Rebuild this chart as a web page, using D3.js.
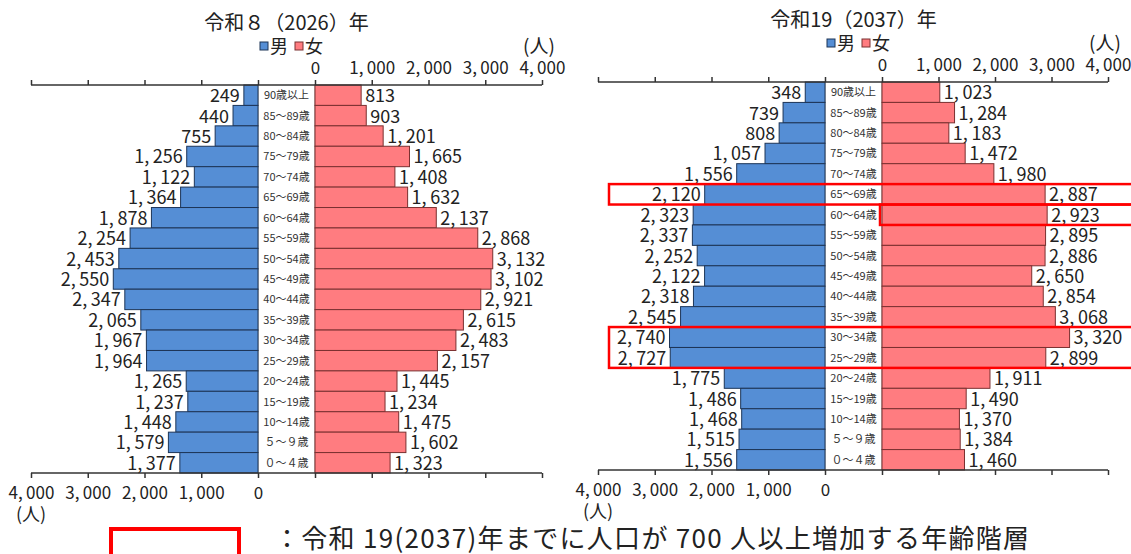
<!DOCTYPE html>
<html>
<head>
<meta charset="utf-8">
<script src="https://cdn.jsdelivr.net/npm/d3@7"></script>
<style>
  body { margin: 0; background: #fff; }
  text { font-family: "Noto Sans CJK JP", "Noto Sans", sans-serif; fill: #222; }
</style>
</head>
<body>
<script>
// Age groups, top to bottom
var ages = ["90歳以上", "85～89歳", "80～84歳", "75～79歳", "70～74歳", "65～69歳",
    "60～64歳", "55～59歳", "50～54歳", "45～49歳", "40～44歳", "35～39歳",
    "30～34歳", "25～29歳", "20～24歳", "15～19歳", "10～14歳", "５～９歳", "０～４歳"];

// 令和8 (2026)
var male2026 = [249, 440, 755, 1256, 1122, 1364, 1878, 2254, 2453, 2550, 2347, 2065, 1967, 1964, 1265, 1237, 1448, 1579, 1377];
var female2026 = [813, 903, 1201, 1665, 1408, 1632, 2137, 2868, 3132, 3102, 2921, 2615, 2483, 2157, 1445, 1234, 1475, 1602, 1323];

// 令和19 (2037)
var male2037 = [348, 739, 808, 1057, 1556, 2120, 2323, 2337, 2252, 2122, 2318, 2545, 2740, 2727, 1775, 1486, 1468, 1515, 1556];
var female2037 = [1023, 1284, 1183, 1472, 1980, 2887, 2923, 2895, 2886, 2650, 2854, 3068, 3320, 2899, 1911, 1490, 1370, 1384, 1460];

var ticks = [0, 1000, 2000, 3000, 4000];

// groups with +700 or more by 2037 (side: both / female)
var highlights = [
    {from: "65～69歳", to: "65～69歳", side: "both"},
    {from: "60～64歳", to: "60～64歳", side: "female"},
    {from: "30～34歳", to: "25～29歳", side: "both"}
];

var W = 1131, H = 554;
var blue = "#558ed5", blueEdge = "#1d3557",
    pink = "#ff7c80", pinkEdge = "#7a3030";

var svg = d3.select("body").append("svg")
    .attr("width", W)
    .attr("height", H);

// number format like "1, 234"
var fmt = function(v) { return d3.format(",")(v).replace(",", ",\u2009"); };

function drawPyramid(opt) {
    var g = svg.append("g");

    var xM = d3.scaleLinear().domain([0, 4000]).range([opt.m0, opt.m4]);
    var xF = d3.scaleLinear().domain([0, 4000]).range([opt.f0, opt.f4]);
    var y = d3.scaleBand().domain(ages).range([opt.top, opt.bottom]).padding(0);

    // Title + legend
    g.append("text")
        .attr("x", (opt.m0 + opt.f0) / 2)
        .attr("y", opt.top - 55)
        .attr("text-anchor", "middle")
        .style("font-size", "20px")
        .text(opt.title);

    var leg = g.append("g").attr("transform", "translate(" + opt.m0 + "," + (opt.top - 39) + ")");
    leg.append("rect").attr("x", 2).attr("y", -4).attr("width", 8).attr("height", 8)
        .attr("fill", blue).attr("stroke", blueEdge);
    leg.append("text").attr("x", 12).attr("y", 7).style("font-size", "18px").text("男");
    leg.append("rect").attr("x", 37).attr("y", -4).attr("width", 8).attr("height", 8)
        .attr("fill", pink).attr("stroke", pinkEdge);
    leg.append("text").attr("x", 47).attr("y", 7).style("font-size", "18px").text("女");

    // Category axes (light gray verticals)
    [opt.m0, opt.f0].forEach(function(x) {
        g.append("line")
            .attr("x1", x).attr("x2", x)
            .attr("y1", opt.top).attr("y2", opt.bottom)
            .attr("stroke", "#b5b5b5").attr("stroke-width", 1.5);
    });

    // Bars
    g.selectAll(".mbar").data(ages).enter().append("rect")
        .attr("class", "mbar")
        .attr("x", function(d, i) { return xM(opt.male[i]); })
        .attr("y", function(d) { return y(d); })
        .attr("width", function(d, i) { return xM(0) - xM(opt.male[i]); })
        .attr("height", y.bandwidth())
        .attr("fill", blue).attr("stroke", blueEdge).attr("stroke-width", 1);

    g.selectAll(".fbar").data(ages).enter().append("rect")
        .attr("class", "fbar")
        .attr("x", xF(0))
        .attr("y", function(d) { return y(d); })
        .attr("width", function(d, i) { return xF(opt.female[i]) - xF(0); })
        .attr("height", y.bandwidth())
        .attr("fill", pink).attr("stroke", pinkEdge).attr("stroke-width", 1);

    // Value labels
    g.selectAll(".mlab").data(ages).enter().append("text")
        .attr("x", function(d, i) { return xM(opt.male[i]) - 4; })
        .attr("y", function(d) { return y(d) + y.bandwidth() / 2 + 7; })
        .attr("text-anchor", "end")
        .style("font-size", "18px")
        .text(function(d, i) { return fmt(opt.male[i]); });

    g.selectAll(".flab").data(ages).enter().append("text")
        .attr("x", function(d, i) { return xF(opt.female[i]) + 4; })
        .attr("y", function(d) { return y(d) + y.bandwidth() / 2 + 7; })
        .attr("text-anchor", "start")
        .style("font-size", "18px")
        .text(function(d, i) { return fmt(opt.female[i]); });

    // Age labels in the middle column
    g.selectAll(".age").data(ages).enter().append("text")
        .attr("x", (opt.m0 + opt.f0) / 2)
        .attr("y", function(d) { return y(d) + y.bandwidth() / 2 + 4; })
        .attr("text-anchor", "middle")
        .style("font-size", "11px")
        .style("fill", "#333")
        .text(function(d) { return d; });

    // Top axes (labels on female side only)
    var topM = g.append("g").attr("transform", "translate(0," + opt.top + ")")
        .call(d3.axisTop(xM).tickValues(ticks).tickFormat("").tickSizeOuter(0).tickSize(5));
    var topF = g.append("g").attr("transform", "translate(0," + opt.top + ")")
        .call(d3.axisTop(xF).tickValues(ticks).tickFormat(fmt).tickSizeOuter(0).tickSize(5));
    g.append("line")
        .attr("x1", opt.m4).attr("x2", opt.f4)
        .attr("y1", opt.top).attr("y2", opt.top)
        .attr("stroke", "#333").attr("stroke-width", 1.5);

    // Bottom axes (labels on male side only)
    var botM = g.append("g").attr("transform", "translate(0," + opt.bottom + ")")
        .call(d3.axisBottom(xM).tickValues(ticks).tickFormat(fmt).tickSizeOuter(0).tickSize(5));
    var botF = g.append("g").attr("transform", "translate(0," + opt.bottom + ")")
        .call(d3.axisBottom(xF).tickValues(ticks).tickFormat("").tickSizeOuter(0).tickSize(5));
    g.append("line")
        .attr("x1", opt.m4).attr("x2", opt.f4)
        .attr("y1", opt.bottom).attr("y2", opt.bottom)
        .attr("stroke", "#333").attr("stroke-width", 1.5);

    [topM, topF, botM, botF].forEach(function(a) {
        a.select(".domain").remove();
        a.selectAll(".tick line").attr("stroke", "#333").attr("stroke-width", 1.5);
        a.selectAll(".tick text").style("font-size", "17px").style("font-family", null).attr("fill", "#222");
    });
    topF.selectAll(".tick text").attr("dy", "-0.2em");
    botM.selectAll(".tick text").attr("dy", "1.05em");

    // unit labels
    g.append("text").attr("x", opt.f4 - 3).attr("y", opt.top - 32)
        .attr("text-anchor", "middle").style("font-size", "19px").text("(人)");
    g.append("text").attr("x", opt.m4).attr("y", opt.bottom + 48)
        .attr("text-anchor", "middle").style("font-size", "18px").text("(人)");

    // Red highlight boxes
    (opt.highlights || []).forEach(function(h) {
        var y0 = y(h.from), y1 = y(h.to) + y.bandwidth();
        var x0 = h.side === "both" ? opt.m4 + 11 : xF(0) - 2;
        g.append("rect")
            .attr("x", x0).attr("y", y0)
            .attr("width", W + 5 - x0).attr("height", y1 - y0)
            .attr("fill", "none").attr("stroke", "#ff0000").attr("stroke-width", 2.5);
    });
}

drawPyramid({
    title: "令和８（2026）年", male: male2026, female: female2026,
    m0: 258, m4: 31, f0: 315, f4: 542, top: 85, bottom: 473
});
drawPyramid({
    title: "令和19（2037）年", male: male2037, female: female2037, highlights: highlights,
    m0: 825, m4: 598, f0: 882, f4: 1108, top: 82, bottom: 470
});

// Bottom note
svg.append("rect")
    .attr("x", 111).attr("y", 529).attr("width", 128).attr("height", 40)
    .attr("fill", "none").attr("stroke", "#ff0000").attr("stroke-width", 4);
svg.append("text")
    .attr("x", 274).attr("y", 548)
    .style("font-size", "26px")
    .style("letter-spacing", "1.3px")
    .text("：令和 19(2037)年までに人口が 700 人以上増加する年齢階層");
</script>
</body>
</html>
